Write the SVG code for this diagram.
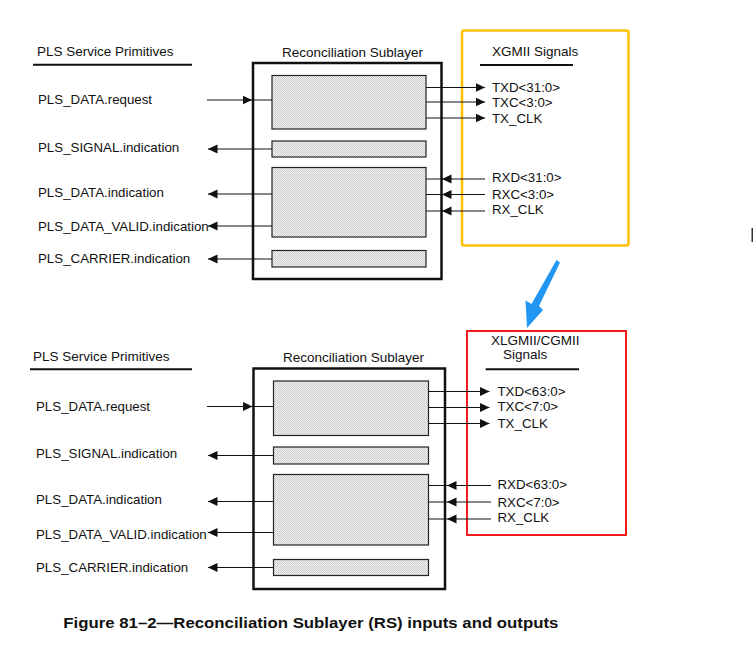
<svg xmlns="http://www.w3.org/2000/svg" width="754" height="650" viewBox="0 0 754 650">
<style>
text{font-family:"Liberation Sans",Arial,sans-serif;font-size:13.3px;fill:#111}
.hdr{font-size:13.5px}
.cap{font-size:15.5px;font-weight:bold}
.rs{fill:none;stroke:#111;stroke-width:2.5}
.blk{fill:url(#dots);stroke:#222;stroke-width:1.2}
.ul{stroke:#111;stroke-width:2}
.c line{stroke:#111;stroke-width:1}
.arr{marker-end:url(#ah)}
</style>
<defs>
<pattern id="dots" width="2" height="2" patternUnits="userSpaceOnUse">
<rect width="2" height="2" fill="#f2f2f2"/>
<rect width="1" height="1" fill="#cdcdcd"/>
<rect x="1" y="1" width="1" height="1" fill="#cdcdcd"/>
</pattern>
<marker id="ah" markerUnits="userSpaceOnUse" markerWidth="11" markerHeight="10" refX="9.5" refY="4.5" orient="auto">
<path d="M0,0 L9.5,4.5 L0,9 z" fill="#111"/>
</marker>
</defs>
<rect width="754" height="650" fill="#fff"/>

<!-- top section -->
<g id="top-primitives-header">
<text class="hdr" x="37" y="55.5">PLS Service Primitives</text>
<line class="ul" x1="33" y1="64.7" x2="192" y2="64.7"/>
</g>
<g id="top-rs">
<text class="hdr" x="282" y="56.5">Reconciliation Sublayer</text>
<rect class="rs" x="253" y="63" width="188.5" height="216"/>
<rect class="blk" x="272" y="75.5" width="154" height="53.5"/>
<rect class="blk" x="272" y="141" width="154" height="16"/>
<rect class="blk" x="272" y="167.5" width="154" height="69.5"/>
<rect class="blk" x="272" y="250.5" width="154" height="16.5"/>
</g>
<g id="top-labels">
<text x="38" y="104">PLS_DATA.request</text>
<text x="38" y="151.5">PLS_SIGNAL.indication</text>
<text x="38" y="197">PLS_DATA.indication</text>
<text x="38" y="231">PLS_DATA_VALID.indication</text>
<text x="38" y="263">PLS_CARRIER.indication</text>
</g>
<g id="top-xgmii">
<rect x="462" y="30.5" width="166.5" height="215" rx="2" fill="none" stroke="#FFC000" stroke-width="2.5"/>
<text class="hdr" x="492" y="56">XGMII Signals</text>
<line class="ul" x1="480" y1="65" x2="573" y2="65"/>
<text x="492" y="92">TXD&lt;31:0&gt;</text>
<text x="492" y="106.5">TXC&lt;3:0&gt;</text>
<text x="492" y="122.5">TX_CLK</text>
<text x="492" y="182">RXD&lt;31:0&gt;</text>
<text x="492" y="199">RXC&lt;3:0&gt;</text>
<text x="492" y="214">RX_CLK</text>
</g>

<!-- bottom section -->
<g id="bot-primitives-header">
<text class="hdr" x="33" y="361">PLS Service Primitives</text>
<line class="ul" x1="30" y1="369.3" x2="192" y2="369.3"/>
</g>
<g id="bot-rs">
<text class="hdr" x="283" y="361.5">Reconciliation Sublayer</text>
<rect class="rs" x="253.5" y="368.5" width="191.5" height="220.5"/>
<rect class="blk" x="273.5" y="381" width="155" height="54.5"/>
<rect class="blk" x="273.5" y="447" width="155" height="17"/>
<rect class="blk" x="273.5" y="474.5" width="155" height="70.5"/>
<rect class="blk" x="273.5" y="559.5" width="155" height="16"/>
</g>
<g id="bot-labels">
<text x="36" y="410.5">PLS_DATA.request</text>
<text x="36" y="458">PLS_SIGNAL.indication</text>
<text x="36" y="504">PLS_DATA.indication</text>
<text x="36" y="538.5">PLS_DATA_VALID.indication</text>
<text x="36" y="571.5">PLS_CARRIER.indication</text>
</g>
<g id="bot-xlgmii">
<rect x="467" y="331" width="159" height="204" fill="none" stroke="#EE1C1C" stroke-width="2"/>
<text class="hdr" x="491" y="344.5">XLGMII/CGMII</text>
<text class="hdr" x="503" y="359">Signals</text>
<line class="ul" x1="485.7" y1="369.3" x2="579" y2="369.3"/>
<text x="497.5" y="395.5">TXD&lt;63:0&gt;</text>
<text x="497.5" y="411">TXC&lt;7:0&gt;</text>
<text x="497.5" y="428">TX_CLK</text>
<text x="497.5" y="489">RXD&lt;63:0&gt;</text>
<text x="497.5" y="506.5">RXC&lt;7:0&gt;</text>
<text x="497.5" y="521.5">RX_CLK</text>
</g>

<!-- connectors -->
<g id="connectors" class="c">
<line class="arr" x1="207" y1="100" x2="252" y2="100"/>
<line x1="252" y1="100" x2="272" y2="100"/>
<line class="arr" x1="272" y1="149" x2="208" y2="149"/>
<line class="arr" x1="272" y1="194" x2="208" y2="194"/>
<line class="arr" x1="272" y1="226" x2="208" y2="226"/>
<line class="arr" x1="272" y1="259" x2="208" y2="259"/>
<line class="arr" x1="426" y1="87.5" x2="485" y2="87.5"/>
<line class="arr" x1="426" y1="102" x2="485" y2="102"/>
<line class="arr" x1="426" y1="118" x2="485" y2="118"/>
<line class="arr" x1="485" y1="179" x2="442" y2="179"/>
<line x1="442" y1="179" x2="426" y2="179"/>
<line class="arr" x1="485" y1="194.5" x2="442" y2="194.5"/>
<line x1="442" y1="194.5" x2="426" y2="194.5"/>
<line class="arr" x1="485" y1="211" x2="442" y2="211"/>
<line x1="442" y1="211" x2="426" y2="211"/>

<line class="arr" x1="207" y1="406.5" x2="252.5" y2="406.5"/>
<line x1="252.5" y1="406.5" x2="273.5" y2="406.5"/>
<line class="arr" x1="273.5" y1="455.5" x2="208" y2="455.5"/>
<line class="arr" x1="273.5" y1="501.5" x2="208" y2="501.5"/>
<line class="arr" x1="273.5" y1="532.5" x2="208" y2="532.5"/>
<line class="arr" x1="273.5" y1="567.5" x2="208" y2="567.5"/>
<line class="arr" x1="428.5" y1="391.5" x2="489.5" y2="391.5"/>
<line class="arr" x1="428.5" y1="407.5" x2="489.5" y2="407.5"/>
<line class="arr" x1="428.5" y1="423.5" x2="489.5" y2="423.5"/>
<line class="arr" x1="491" y1="485.5" x2="447" y2="485.5"/>
<line x1="447" y1="485.5" x2="428.5" y2="485.5"/>
<line class="arr" x1="491" y1="502" x2="447" y2="502"/>
<line x1="447" y1="502" x2="428.5" y2="502"/>
<line class="arr" x1="491" y1="519" x2="447" y2="519"/>
<line x1="447" y1="519" x2="428.5" y2="519"/>
</g>

<g id="blue-arrow">
<path d="M556.5,260 L560,262.5 L539,306 L543,310 L527,328 L525.5,300.5 L531.5,304 Z" fill="#2196F3"/>
</g>
<rect x="751.5" y="228" width="1.5" height="14" fill="#333"/>

<text class="cap" x="63.3" y="627.5" textLength="495" lengthAdjust="spacingAndGlyphs">Figure 81–2—Reconciliation Sublayer (RS) inputs and outputs</text>
</svg>
